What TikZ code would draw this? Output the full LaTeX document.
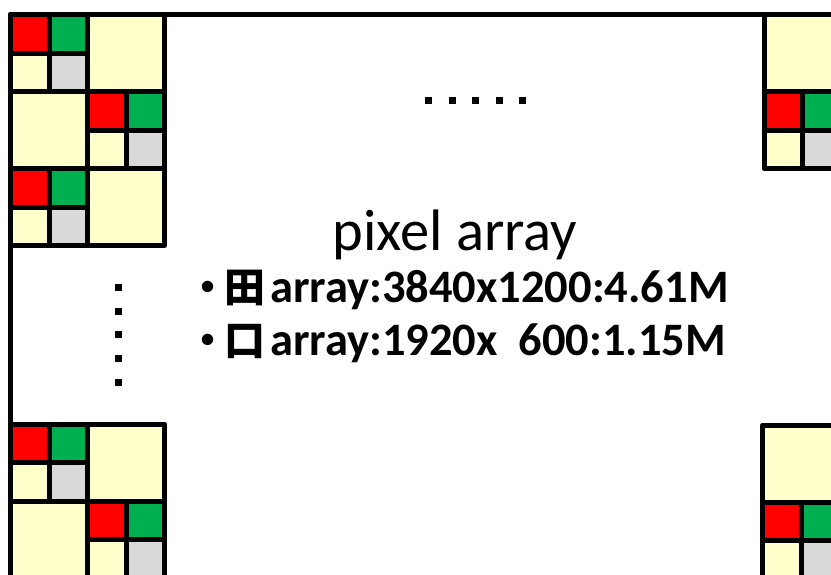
\documentclass[tikz,border=0pt]{standalone}
\usepackage{fontspec}
\setmainfont{Carlito}
\newfontfamily\cjkfont{Noto Sans CJK JP}
\definecolor{pxred}{HTML}{FF0000}
\definecolor{pxgreen}{HTML}{00B050}
\definecolor{pxcream}{HTML}{FFFFCC}
\definecolor{pxgray}{HTML}{D9D9D9}
\newcommand{\cjkmark}[1]{{\cjkfont\bfseries\fontsize{41}{44}\selectfont ・\kern-4pt #1\kern5pt}}
\begin{document}
\begin{tikzpicture}[x=1pt,y=-1pt,
  cellline/.style={draw=black,line width=5pt,line join=round},
  pics/pxwhole/.style={code={\path[cellline,fill=pxcream] (0,0) rectangle (77,77);}},
  pics/pxsplit/.style={code={
     \path[cellline,fill=pxred]   (0,0)       rectangle (38.5,38.5);
     \path[cellline,fill=pxgreen] (38.5,0)    rectangle (77,38.5);
     \path[cellline,fill=pxcream] (0,38.5)    rectangle (38.5,77);
     \path[cellline,fill=pxgray]  (38.5,38.5) rectangle (77,77);}},
  sqdot/.style={rectangle,fill=black,minimum size=7pt,inner sep=0pt},
  infoline/.style={anchor=base west,inner sep=0pt,font=\bfseries\fontsize{46.5}{50}\selectfont}
]
\path[use as bounding box] (0,0) rectangle (831,574);
\clip (0,0) rectangle (831,574);

% top-left corner block
\pic at (10.5,14.5) {pxsplit};
\pic at (87.5,14.5) {pxwhole};
\pic at (10.5,91.5) {pxwhole};
\pic at (87.5,91.5) {pxsplit};
\pic at (10.5,168.5) {pxsplit};
\pic at (87.5,168.5) {pxwhole};

% top-right corner block
\pic at (764,14.5) {pxwhole};
\pic at (764,91.5) {pxsplit};

% bottom-left corner block
\pic at (10.5,424) {pxsplit};
\pic at (87.5,424) {pxwhole};
\pic at (10.5,501) {pxwhole};
\pic at (87.5,501) {pxsplit};

% bottom-right corner block
\pic at (762.5,425) {pxwhole};
\pic at (762.5,502) {pxsplit};

% array frame
\coordinate (frameR) at (845,14.5);
\coordinate (frameC) at (10.5,14.5);
\coordinate (frameB) at (10.5,590);
\draw[line width=5pt,line join=round] (frameR) -- (frameC) -- (frameB);

% ellipsis dots
\foreach \i/\x in {1/428,2/452,3/475,4/499,5/522}
  \node[sqdot] (hd\i) at (\x,100) {};
\foreach \i/\y in {1/287,2/311,3/334,4/358,5/382}
  \node[sqdot] (vd\i) at (118,\y) {};

% labels
\node[anchor=base,inner sep=0pt,font=\fontsize{58.5}{62}\selectfont] (title) at (455,250) {pixel array};
\node[infoline] (line1) at (187,302) {\cjkmark{田}array:3840x1200:4.61M};
\node[infoline] (line2) at (187,355) {\cjkmark{口}array:1920x\ \ 600:1.15M};
\end{tikzpicture}
\end{document}
